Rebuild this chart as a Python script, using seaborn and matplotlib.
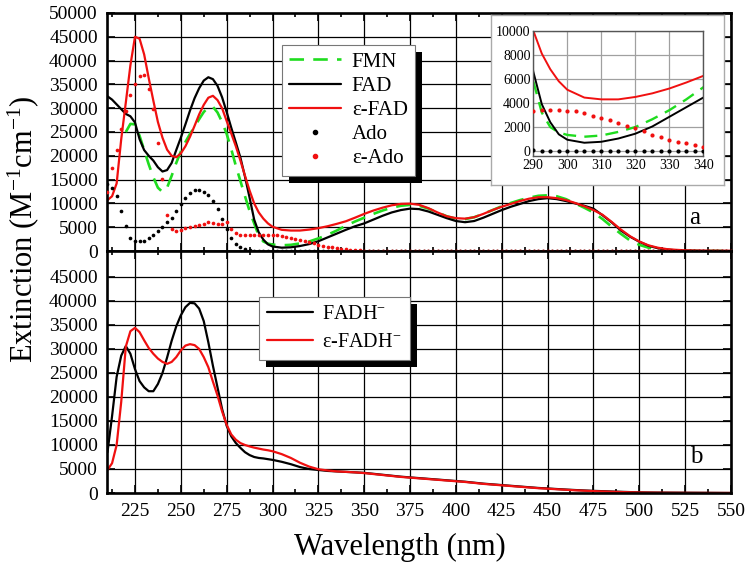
import numpy as np
import matplotlib
matplotlib.use("Agg")
import matplotlib.pyplot as plt
import seaborn as sns
from matplotlib.lines import Line2D
from matplotlib.patches import Rectangle
from matplotlib.ticker import MultipleLocator

# ---------------- data ----------------
wl = np.concatenate([np.arange(210, 300.1, 2.5), np.arange(305, 551, 5)])
wl_dots = np.arange(210, 551, 2.5)

nan = np.nan
fmn = [nan, nan, nan, nan, 25000, 26700, 26600, 24200, 21200, 18200, 15500, 13300, 12400, 13300,
       15800, 18500, 20900, 22900, 24600, 26100, 27700, 29200, 30200, 30300, 29100, 27100, 24600,
       21400, 17900, 14700, 11500, 8400, 5800, 3200, 2000, 1550, 1350,
       1200, 1300, 1600, 2000, 2650, 3400, 4300, 5300, 6200, 7000, 7800, 8500, 9100, 9500, 9700,
       9500, 8900, 8100, 7300, 6800, 6700, 7100, 7800, 8600, 9400, 10100, 10700, 11200, 11600, 11700,
       11500, 10900, 10000, 9100, 8100, 6700, 5100, 3600, 2200, 1300, 700, 300, 120, 50, 0,
       0, 0, 0, 0, 0]
fad = [32500, 31800, 30800, 29800, 28800, 28300, 27000, 23500, 21200, 20000, 19000, 17600, 16700,
       17000, 18500, 21200, 23800, 26600, 29500, 32100, 34200, 35800, 36500, 36100, 34700, 32300,
       29200, 25900, 22800, 19600, 15600, 11200, 6600, 3900, 2400, 1400, 950,
       700, 780, 1050, 1450, 2050, 2850, 3650, 4450, 5200, 5800, 6600, 7400, 8100, 8600, 8900,
       8800, 8300, 7600, 6900, 6300, 6050, 6300, 7000, 7800, 8600, 9300, 9900, 10500, 10900, 11100,
       10900, 10500, 10000, 9500, 8900, 7500, 6000, 4300, 3000, 1950, 1100, 600, 300, 150, 80,
       40, 20, 10, 0, 0]
efad = [10700, 11500, 14200, 23500, 31200, 39000, 45000, 44600, 41300, 36300, 31600, 27100, 23800,
        21300, 20000, 19700, 20500, 22000, 24000, 26300, 28700, 30700, 32200, 32600, 31700, 30000,
        27300, 24700, 22000, 19000, 15800, 12700, 10000, 8100, 6800, 5800, 5100,
        4450, 4300, 4300, 4500, 4800, 5200, 5700, 6250, 7000, 7800, 8500, 9100, 9600, 9900, 9950,
        9700, 9000, 8100, 7300, 6900, 6800, 7100, 7800, 8600, 9300, 9900, 10500, 11000, 11300, 11300,
        11100, 10700, 10100, 9400, 8600, 7600, 6100, 4500, 3100, 2000, 1200, 700, 400, 250, 150,
        100, 80, 60, 50, 50]
ado = [14000, 13200, 11500, 8400, 5200, 2800, 2000, 2000, 2200, 2700,
       3400, 4300, 5100, 6000, 7000, 8300, 9800, 11100, 12200, 12750,
       12800, 12500, 11700, 10600, 8800, 6800, 4600, 2800, 1500, 800,
       400, 200, 80, 30, 0, 0, 0, 0, 0, 0,
       0, 0, 0, 0, 0, 0, 0, 0, 0, 0,
       0, 0, 0, 0, 0, 0, 0, 0, 0, 0,
       0, 0, 0, 0, 0, 0, 0, 0, 0, 0,
       0, 0, 0, 0, 0, 0, 0, 0, 0, 0,
       0, 0, 0, 0, 0, 0, 0, 0, 0, 0,
       0, 0, 0, 0, 0, 0, 0, 0, 0, 0,
       0, 0, 0, 0, 0, 0, 0, 0, 0, 0,
       0, 0, 0, 0, 0, 0, 0, 0, 0, 0,
       0, 0, 0, 0, 0, 0, 0, 0, 0, 0,
       0, 0, 0, 0, 0, 0, 0]
eado = [12500, 17500, 21300, 25700, 29400, 32700, 35000, 36800, 37000, 34000,
        29800, 22700, 15200, 7500, 4700, 4300, 4500, 4800, 5000, 5200,
        5400, 5700, 6100, 5900, 5600, 5600, 6000, 4600, 3700, 3400,
        3300, 3300, 3350, 3400, 3400, 3400, 3350, 3300, 3150, 2950,
        2750, 2550, 2350, 2100, 1900, 1650, 1350, 1150, 920, 800,
        690, 500, 360, 260, 190, 140, 100, 80, 60, 50,
        50, 50, 50, 50, 50, 50, 50, 50, 50, 50,
        50, 50, 50, 50, 50, 50, 50, 50, 50, 50,
        50, 50, 50, 50, 50, 50, 50, 50, 50, 50,
        50, 50, 50, 50, 50, 50, 50, 50, 50, 50,
        50, 50, 50, 50, 50, 50, 50, 50, 50, 50,
        50, 50, 50, 50, 50, 50, 50, 50, 50, 50,
        50, 50, 50, 50, 50, 50, 50, 50, 50, 50,
        50, 50, 50, 50, 50, 50, 50]
fadh = [8500, 16000, 24200, 28600, 30600, 29000, 25800, 23300, 22000, 21200, 21200, 22700, 25000,
        28200, 31700, 34700, 37000, 38700, 39600, 39500, 38400, 35800, 31400, 26500, 22000, 17500,
        14000, 11800, 10400, 9400, 8500, 7900, 7500, 7300, 7200, 7050, 6900,
        6500, 6000, 5400, 5000, 4800, 4600, 4500, 4400, 4300, 4200, 4000, 3800, 3600, 3400, 3250,
        3100, 2950, 2800, 2650, 2500, 2350, 2150, 1950, 1800, 1650, 1500, 1350, 1200, 1050, 950,
        830, 720, 620, 530, 450, 380, 310, 250, 190, 140, 110, 90, 80, 70, 60,
        50, 40, 30, 20, 10]
efadh = [4800, 6200, 10000, 19000, 30500, 33700, 34400, 33500, 31800, 30200, 29000, 28000, 27300,
         26900, 27300, 28300, 29700, 30700, 31000, 30800, 30000, 28300, 26200, 23200, 20300, 17000,
         14200, 12200, 11100, 10400, 10000, 9700, 9450, 9250, 9050, 8900, 8700,
         8100, 7300, 6300, 5500, 4950, 4700, 4500, 4400, 4300, 4150, 3950, 3750, 3550, 3350, 3200,
         3050, 2900, 2750, 2600, 2450, 2300, 2100, 1900, 1750, 1600, 1450, 1300, 1150, 1000, 900,
         780, 670, 570, 480, 400, 330, 260, 200, 150, 110, 80, 60, 50, 40, 30,
         25, 20, 15, 10, 10]

x_major = [225, 250, 275, 300, 325, 350, 375, 400, 425, 450, 475, 500, 525, 550]
y_ticks_a = [0, 5000, 10000, 15000, 20000, 25000, 30000, 35000, 40000, 45000, 50000]
y_ticks_b = [0, 5000, 10000, 15000, 20000, 25000, 30000, 35000, 40000, 45000]
inset_xticks = [290, 300, 310, 320, 330, 340]
inset_yticks = [0, 2000, 4000, 6000, 8000, 10000]

GREEN = "#1fdc1f"
RED = "#f01010"
BLACK = "black"

# ---------------- style ----------------
sns.set_style("ticks")
plt.rcParams["font.family"] = ["Liberation Serif", "DejaVu Serif"]
plt.rcParams["mathtext.fontset"] = "custom"
plt.rcParams["mathtext.rm"] = "Liberation Serif"
plt.rcParams["mathtext.it"] = "Liberation Serif:italic"
plt.rcParams["mathtext.bf"] = "Liberation Serif:bold"
for key in ["text.color", "axes.labelcolor", "xtick.color", "ytick.color", "axes.edgecolor"]:
    plt.rcParams[key] = "black"

fig = plt.figure(figsize=(7.5, 5.67), dpi=100)
ax_a = fig.add_axes([0.1433, 0.5573, 0.8313, 0.4198])
ax_b = fig.add_axes([0.1433, 0.1305, 0.8313, 0.4268])


def style_main(ax, yticks, ylim):
    ax.set_xlim(210, 550)
    ax.set_ylim(*ylim)
    ax.set_xticks(x_major)
    ax.xaxis.set_minor_locator(MultipleLocator(12.5))
    ax.set_yticks(yticks)
    ax.grid(True, which="major", color="black", lw=0.9)
    ax.set_axisbelow(True)
    ax.tick_params(which="both", direction="in", top=True, right=True,
                   labelsize=14, width=1.2, pad=7, colors="black")
    ax.tick_params(which="major", length=6)
    ax.tick_params(which="minor", length=3)
    for s in ax.spines.values():
        s.set_linewidth(1.9)
        s.set_color("black")
    ax.set_xlabel("")
    ax.set_ylabel("")


def draw_a(ax, lw=1.6, ms=7):
    sns.lineplot(x=wl, y=fmn, ax=ax, color=GREEN, lw=lw + 0.3, linestyle=(0, (5.5, 3.5)), legend=False)
    sns.lineplot(x=wl, y=fad, ax=ax, color=BLACK, lw=lw, legend=False)
    sns.lineplot(x=wl, y=efad, ax=ax, color=RED, lw=lw, legend=False)
    sns.scatterplot(x=wl_dots, y=ado, ax=ax, color=BLACK, s=ms, linewidth=0, legend=False, zorder=3)
    sns.scatterplot(x=wl_dots, y=eado, ax=ax, color=RED, s=ms, linewidth=0, legend=False, zorder=3)


# ---- panel a ----
draw_a(ax_a)
style_main(ax_a, y_ticks_a, (0, 50000))
ax_a.tick_params(labelbottom=False)
ax_a.text(0.942, 0.139, "a", transform=ax_a.transAxes, fontsize=18, ha="center", va="center")

handles_a = [
    Line2D([], [], color=GREEN, lw=1.9, linestyle=(0, (5.5, 3.5))),
    Line2D([], [], color=BLACK, lw=1.6),
    Line2D([], [], color=RED, lw=1.6),
    Line2D([], [], color=BLACK, ls="none", marker="o", ms=3),
    Line2D([], [], color=RED, ls="none", marker="o", ms=3),
]
labels_a = ["FMN", "FAD", "\u03b5-FAD", "Ado", "\u03b5-Ado"]
leg_a = ax_a.legend(handles_a, labels_a, loc="upper left", bbox_to_anchor=(0.28, 0.866),
                    borderaxespad=0, fontsize=15, handlelength=2.5, labelspacing=0.22,
                    borderpad=0.35, handletextpad=0.5, frameon=True, fancybox=False,
                    framealpha=1, edgecolor="#777777", numpoints=1)
leg_a.get_frame().set_linewidth(0.8)

# ---- panel b ----
sns.lineplot(x=wl, y=fadh, ax=ax_b, color=BLACK, lw=1.6, legend=False)
sns.lineplot(x=wl, y=efadh, ax=ax_b, color=RED, lw=1.6, legend=False)
style_main(ax_b, y_ticks_b, (0, 50400))
ax_b.text(0.945, 0.149, "b", transform=ax_b.transAxes, fontsize=18, ha="center", va="center")
handles_b = [Line2D([], [], color=BLACK, lw=1.6), Line2D([], [], color=RED, lw=1.6)]
labels_b = ["FADH$^{-}$", "\u03b5-FADH$^{-}$"]
leg_b = ax_b.legend(handles_b, labels_b, loc="upper left", bbox_to_anchor=(0.243, 0.81),
                    borderaxespad=0, fontsize=14.5, handlelength=2.3, labelspacing=0.45,
                    borderpad=0.4, handletextpad=0.45, frameon=True, fancybox=False,
                    framealpha=1, edgecolor="#777777")
leg_b.get_frame().set_linewidth(0.8)

# ---- inset ----
ax_bg = fig.add_axes([491 / 750, 1 - 185 / 567, 233 / 750, 170 / 567], zorder=3)
ax_bg.set_xticks([])
ax_bg.set_yticks([])
ax_bg.set_facecolor("white")
for s in ax_bg.spines.values():
    s.set_color("#aaaaaa")
    s.set_linewidth(1.0)

ax_in = fig.add_axes([533.3 / 750, 1 - 156 / 567, 170 / 750, 125.3 / 567], zorder=4)
draw_a(ax_in, lw=1.4, ms=9)
ax_in.set_xlim(290, 340)
ax_in.set_ylim(-400, 10000)
ax_in.set_xticks(inset_xticks)
ax_in.set_yticks(inset_yticks)
ax_in.grid(True, color="#a0a0a0", lw=0.9)
ax_in.set_axisbelow(True)
ax_in.tick_params(length=0, labelsize=10, pad=2, colors="black")
ax_in.set_xlabel("")
ax_in.set_ylabel("")
for s in ax_in.spines.values():
    s.set_color("#555555")
    s.set_linewidth(1.0)

# ---- axis labels ----
fig.text(0.031, 0.596, r"Extinction (M$^{\mathregular{-1}}$cm$^{\mathregular{-1}}$)",
         rotation=90, fontsize=22, ha="center", va="center", color="black")
fig.text(0.533, 0.034, "Wavelength (nm)", fontsize=22, ha="center", va="center", color="black")

# ---- legend shadows ----
fig.canvas.draw()


def add_shadow(ax, leg, dx=7, dy=7):
    bb = leg.get_window_extent()
    inv = ax.transAxes.inverted()
    x0, y0 = inv.transform((bb.x0 + dx, bb.y0 - dy))
    x1, y1 = inv.transform((bb.x1 + dx, bb.y1 - dy))
    ax.add_patch(Rectangle((x0, y0), x1 - x0, y1 - y0, transform=ax.transAxes,
                           facecolor="black", edgecolor="none", zorder=4.9, clip_on=False))


add_shadow(ax_a, leg_a)
add_shadow(ax_b, leg_b)

fig.savefig("out.png", dpi=100)
